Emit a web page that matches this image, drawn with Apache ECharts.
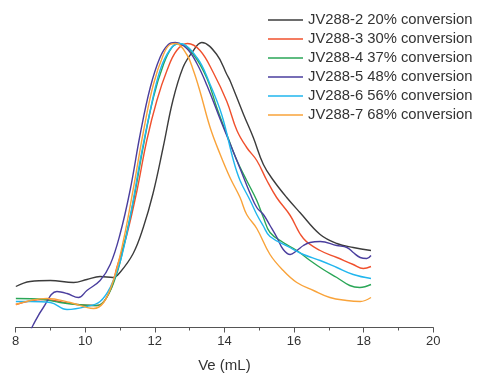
<!DOCTYPE html>
<html>
<head>
<meta charset="utf-8">
<script src="https://cdn.jsdelivr.net/npm/echarts@6/dist/echarts.min.js"></script>
<style>
  html, body { margin: 0; padding: 0; background: #fff; }
  #chart { width: 478px; height: 374px; }
</style>
</head>
<body>
<div id="chart"></div>
<script>
// sample names, in legend order
var names = ['JV288-2 20% conversion', 'JV288-3 30% conversion', 'JV288-4 37% conversion',
  'JV288-5 48% conversion', 'JV288-6 56% conversion', 'JV288-7 68% conversion'];
var colors = ['#3c3c3c', '#f0502d', '#2aa657', '#4a3e9e', '#21b6ee', '#f9a33a'];

// [Ve (mL), detector signal (a.u.)]
var jv2 = [[8.01, 41], [8.42, 46], [9.0, 47], [9.67, 45], [10.05, 48], [10.43, 51], [10.8, 50],
  [11.0, 55], [11.38, 74], [11.67, 100], [11.95, 134], [12.24, 180], [12.52, 227], [12.81, 260],
  [13.07, 275], [13.35, 285], [13.78, 273], [14.07, 253], [14.16, 247], [14.55, 213], [14.83, 190],
  [15.12, 163], [15.41, 147], [15.79, 130], [16.17, 115], [16.75, 93], [17.23, 84], [17.7, 80], [18.21, 77]];
var jv3 = [[8.01, 23], [8.8, 28], [9.09, 27], [9.76, 23], [10.34, 22], [10.72, 37], [10.91, 60],
  [11.2, 93], [11.49, 137], [11.77, 187], [12.06, 227], [12.35, 257], [12.63, 277], [12.94, 284],
  [13.3, 277], [13.68, 255], [14.07, 226], [14.36, 197], [14.64, 180], [14.93, 167], [15.22, 147],
  [15.5, 130], [15.89, 112], [16.27, 89], [16.75, 77], [17.23, 70], [17.7, 63], [17.99, 59], [18.21, 61]];
var jv4 = [[8.01, 29], [8.8, 28], [9.28, 25], [9.76, 23], [10.34, 22], [10.62, 30], [10.91, 54],
  [11.1, 80], [11.39, 127], [11.68, 183], [11.96, 230], [12.25, 263], [12.49, 280], [12.7, 284],
  [13.11, 273], [13.5, 249], [13.78, 220], [14.07, 193], [14.36, 167], [14.64, 147], [14.93, 127],
  [15.12, 110], [15.31, 95], [15.69, 85], [16.08, 77], [16.46, 67], [16.84, 58], [17.23, 50],
  [17.6, 42], [17.89, 40], [18.21, 43]];
var jv5 = [[8.4, -6], [8.5, 2], [8.8, 20], [9.19, 36], [9.48, 34], [9.81, 30], [10.05, 37], [10.43, 47],
  [10.72, 63], [11.0, 93], [11.29, 137], [11.58, 193], [11.87, 240], [12.15, 270], [12.39, 283],
  [12.59, 285], [12.92, 279], [13.21, 264], [13.5, 242], [13.87, 209], [14.16, 184], [14.45, 159],
  [14.74, 134], [14.93, 120], [15.12, 113], [15.31, 102], [15.51, 90], [15.69, 78], [15.89, 73],
  [16.08, 77], [16.27, 82], [16.46, 85], [16.75, 86], [17.23, 82], [17.52, 80], [17.7, 75],
  [17.9, 70], [18.09, 69], [18.21, 72]];
var jv6 = [[8.01, 26], [8.42, 26], [9.0, 25], [9.48, 18], [10.05, 21], [10.43, 26], [10.72, 40],
  [11.0, 65], [11.29, 110], [11.58, 167], [11.87, 217], [12.15, 257], [12.44, 278], [12.7, 284],
  [13.21, 270], [13.59, 243], [13.93, 212], [14.26, 167], [14.45, 147], [14.74, 127], [14.93, 113],
  [15.11, 102], [15.31, 91], [15.88, 80], [16.27, 73], [16.75, 67], [17.23, 60], [17.7, 53], [18.21, 49]];
var jv7 = [[8.01, 23], [8.9, 29], [9.57, 25], [10.24, 19], [10.53, 25], [10.81, 47], [11.1, 87],
  [11.39, 140], [11.68, 197], [11.96, 243], [12.25, 273], [12.44, 283], [12.61, 284], [12.92, 273],
  [13.11, 257], [13.3, 236], [13.59, 200], [13.88, 173], [14.16, 150], [14.45, 130], [14.64, 113],
  [14.93, 99], [15.31, 73], [15.69, 57], [16.08, 45], [16.56, 37], [17.03, 30], [17.51, 27],
  [17.9, 26], [18.21, 30]];
var seriesValues = [jv2, jv3, jv4, jv5, jv6, jv7];

var xTicks = [8, 10, 12, 14, 16, 18, 20];

var font = 'Liberation Sans, Arial, sans-serif';
var myChart = echarts.init(document.getElementById('chart'));

var series = names.map(function (name, i) {
  return {
    name: name,
    type: 'line',
    symbol: 'none',
    smooth: 0.4,
    clip: true,
    lineStyle: { color: colors[i], width: 1.4 },
    itemStyle: { color: colors[i] },
    data: seriesValues[i]
  };
});

var option = {
  backgroundColor: '#fff',
  animation: false,
  grid: {
    left: 15.5,
    right: 44.7,
    top: 27.5,
    bottom: 46.5,
    outerBoundsMode: 'none'
  },
  legend: {
    data: names,
    orient: 'vertical',
    left: 268,
    top: 12.5,
    padding: 0,
    icon: 'rect',
    itemWidth: 35,
    itemHeight: 1.5,
    itemGap: 4,
    textStyle: { fontSize: 14.8, fontFamily: font, color: '#333', lineHeight: 15 }
  },
  xAxis: {
    type: 'value',
    min: xTicks[0],
    max: xTicks[xTicks.length - 1],
    interval: 2,
    name: 'Ve (mL)',
    nameLocation: 'middle',
    nameGap: 31,
    nameTextStyle: { fontSize: 15, fontFamily: font, color: '#333' },
    axisLine: { lineStyle: { color: '#555', width: 1 } },
    axisTick: { show: true, length: 5, lineStyle: { color: '#555' } },
    minorTick: { show: true, splitNumber: 2, length: 3, lineStyle: { color: '#555' } },
    axisLabel: { fontSize: 13, fontFamily: font, color: '#333', margin: 7 },
    splitLine: { show: false }
  },
  yAxis: {
    type: 'value',
    min: 0,
    max: 300,
    show: false
  },
  series: series
};

myChart.setOption(option);
</script>
</body>
</html>
